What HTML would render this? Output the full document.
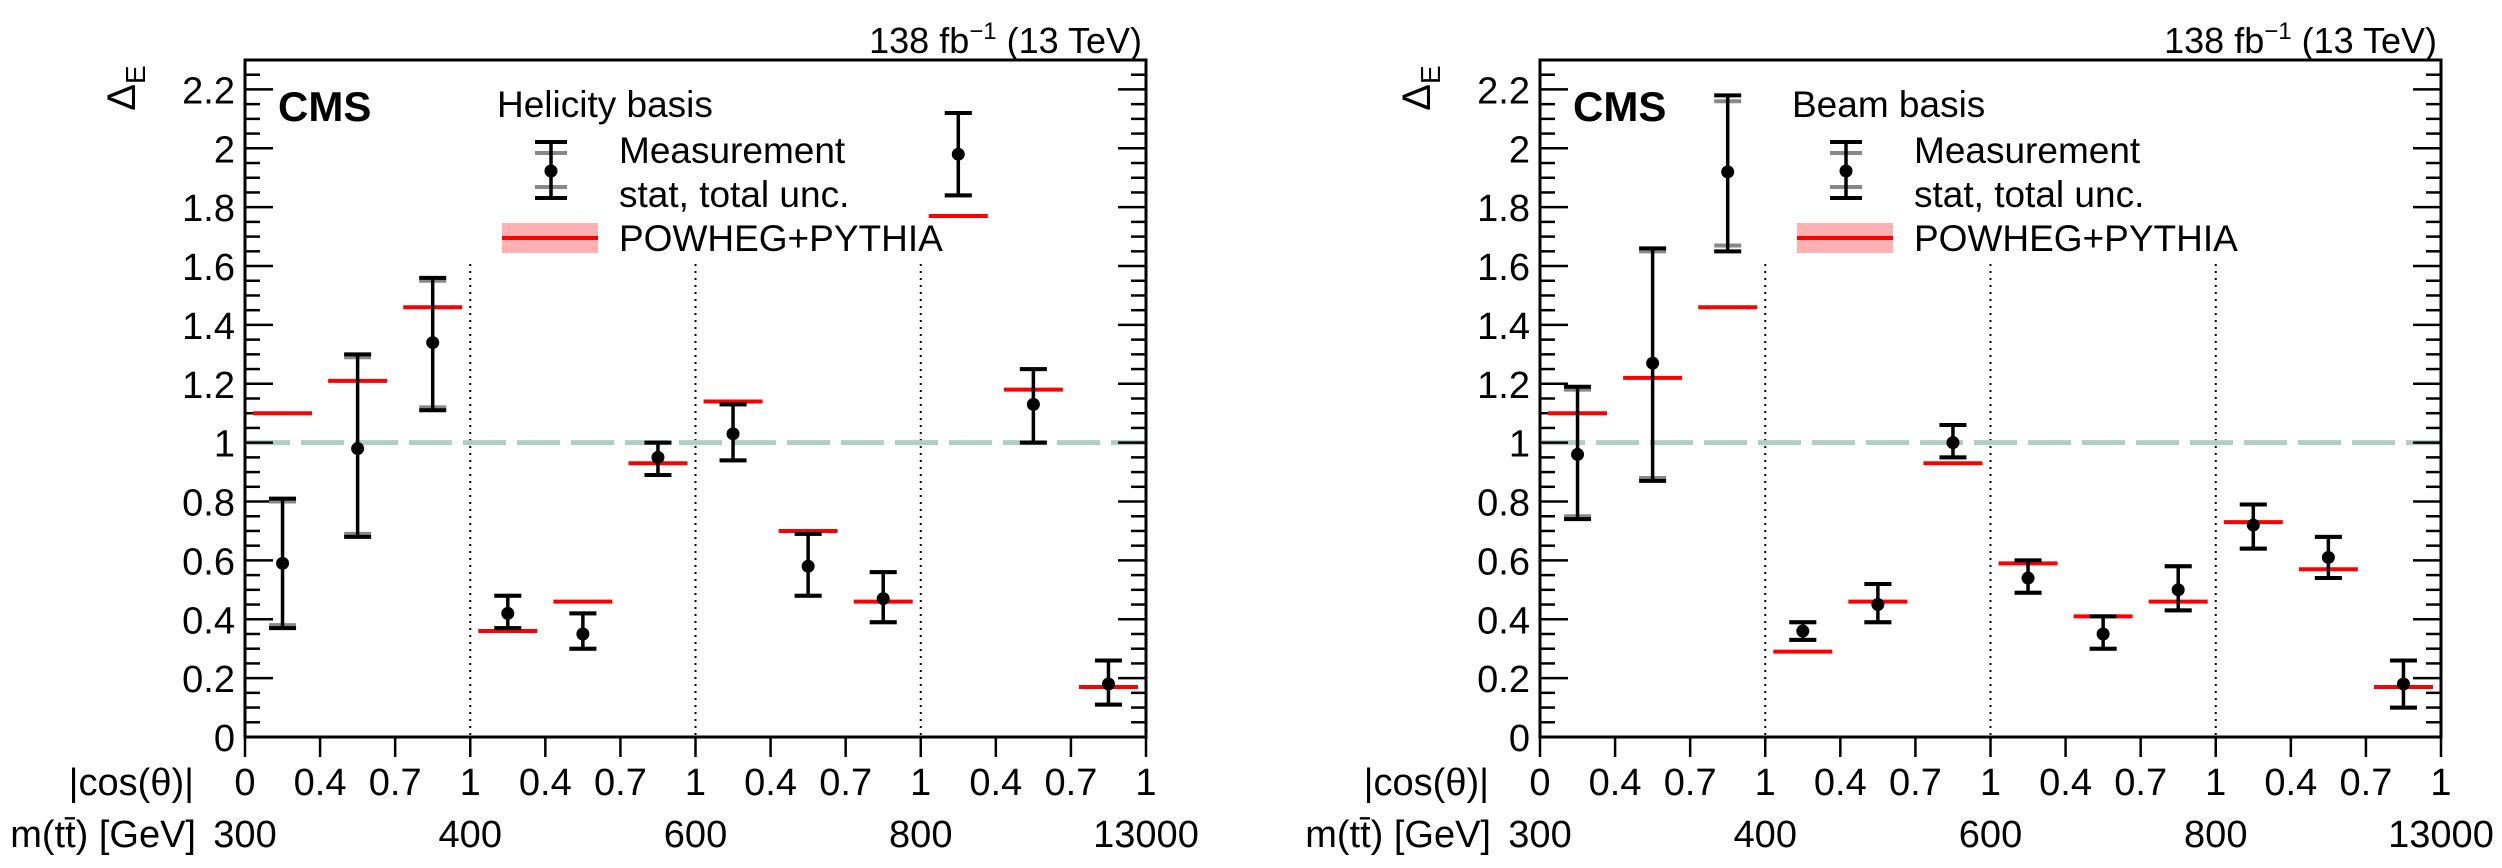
<!DOCTYPE html>
<html><head><meta charset="utf-8">
<style>
html,body{margin:0;padding:0;background:#fff;}
svg{display:block;font-family:"Liberation Sans",Arial,sans-serif;}
</style></head>
<body>
<svg id="chart" width="2502" height="868" viewBox="0 0 2502 868" xmlns="http://www.w3.org/2000/svg"></svg>
<script>
// Helicity basis (left panel)
const helVal  = [0.59,0.98,1.34, 0.42,0.35,0.95, 1.03,0.58,0.47, 1.98,1.13,0.18];
const helLo   = [0.37,0.68,1.11, 0.37,0.30,0.89, 0.94,0.48,0.39, 1.84,1.00,0.11];
const helHi   = [0.81,1.30,1.56, 0.48,0.42,1.00, 1.13,0.69,0.56, 2.12,1.25,0.26];
const helStatLo=[0.38,0.69,1.12, 0.37,0.30,0.89, 0.94,0.48,0.39, 1.84,1.00,0.11];
const helStatHi=[0.80,1.29,1.55, 0.48,0.42,1.00, 1.13,0.69,0.56, 2.12,1.25,0.26];
const helPred = [1.10,1.21,1.46, 0.36,0.46,0.93, 1.14,0.70,0.46, 1.77,1.18,0.17];
// Beam basis (right panel)
const beamVal  = [0.96,1.27,1.92, 0.36,0.45,1.00, 0.54,0.35,0.50, 0.72,0.61,0.18];
const beamLo   = [0.74,0.87,1.65, 0.33,0.39,0.95, 0.49,0.30,0.43, 0.64,0.54,0.10];
const beamHi   = [1.19,1.66,2.18, 0.39,0.52,1.06, 0.60,0.41,0.58, 0.79,0.68,0.26];
const beamStatLo=[0.75,0.88,1.67, 0.33,0.39,0.95, 0.49,0.30,0.43, 0.64,0.54,0.10];
const beamStatHi=[1.18,1.65,2.16, 0.39,0.52,1.06, 0.60,0.41,0.58, 0.79,0.68,0.26];
const beamPred = [1.10,1.22,1.46, 0.29,0.46,0.93, 0.59,0.41,0.46, 0.73,0.57,0.17];
const yTicks = [0,0.2,0.4,0.6,0.8,1,1.2,1.4,1.6,1.8,2,2.2];
const yTickLabels = ["0","0.2","0.4","0.6","0.8","1","1.2","1.4","1.6","1.8","2","2.2"];
const cosLabels = ["0","0.4","0.7","1","0.4","0.7","1","0.4","0.7","1","0.4","0.7","1"];
const massLabels = ["300","400","600","800","13000"];

const NS="http://www.w3.org/2000/svg";
const svg=document.getElementById('chart');
function mk(tag,attrs,parent){const e=document.createElementNS(NS,tag);for(const k in attrs)e.setAttribute(k,attrs[k]);(parent||svg).appendChild(e);return e;}

function panel(off, basis, val, lo, hi, slo, shi, pred){
  const L=245+off, R=1146+off, T=60, B=737;
  const Y0=0, Y1=2.3, nb=12, bw=(R-L)/nb;
  const y=v=>B-(v-Y0)/(Y1-Y0)*(B-T);
  const x=i=>L+i*bw;
  const g=mk('g',{});
  
  
  // dotted separators
  [3,6,9].forEach(i=>{
    const l=mk('line',{x1:x(i),x2:x(i),y1:264,y2:B,stroke:'#000','stroke-width':2,'stroke-dasharray':'2,5'},g);
    
    
  });
  // dashed reference line at 1
  const ref=mk('line',{x1:L+2,x2:R,y1:y(1),y2:y(1),stroke:'#b0cfc4','stroke-width':5,'stroke-dasharray':'43,11'},g);
  
  
  // y ticks
  for(let k=0;k<=46;k++){
    const v=k*0.05; const yy=y(v); const major=(k%4===0);
    const len=major?28:15;
    mk('line',{x1:L,x2:L+len,y1:yy,y2:yy,stroke:'#000','stroke-width':2.5},g);
    mk('line',{x1:R,x2:R-len,y1:yy,y2:yy,stroke:'#000','stroke-width':2.5},g);
  }
  yTicks.forEach((v,i)=>{
    const t=mk('text',{x:L-10,y:y(v)+14,'text-anchor':'end','font-size':38},g);
    t.textContent=yTickLabels[i];
    
    
  });
  // x ticks
  for(let i=0;i<=nb;i++){
    mk('line',{x1:x(i),x2:x(i),y1:B,y2:B+20,stroke:'#000','stroke-width':2.5},g);
    const t=mk('text',{x:x(i),y:795,'text-anchor':'middle','font-size':38},g);
    t.textContent=cosLabels[i];
    
    
  }
  massLabels.forEach((m,i)=>{
    const t=mk('text',{x:x(i*3),y:847,'text-anchor':'middle','font-size':38},g);
    t.textContent=m;
    
    
  });
  // frame
  const fr=mk('rect',{x:L,y:T,width:R-L,height:B-T,fill:'none',stroke:'#000','stroke-width':3},g);
  
  
  // predictions
  pred.forEach((p,i)=>{
    const cx=x(i+0.5);
    const l=mk('line',{x1:cx-29.5,x2:cx+29.5,y1:y(p),y2:y(p),stroke:'#ff0000','stroke-width':4},g);
    
    
  });
  // measurements
  val.forEach((v,i)=>{
    const cx=x(i+0.5);
    const eg=mk('g',{},g);
    
    
    mk('line',{x1:cx-13.5,x2:cx+13.5,y1:y(slo[i]),y2:y(slo[i]),stroke:'#888','stroke-width':4},eg);
    mk('line',{x1:cx-13.5,x2:cx+13.5,y1:y(shi[i]),y2:y(shi[i]),stroke:'#888','stroke-width':4},eg);
    mk('line',{x1:cx,x2:cx,y1:y(lo[i]),y2:y(hi[i]),stroke:'#000','stroke-width':3.5},eg);
    mk('line',{x1:cx-13.5,x2:cx+13.5,y1:y(lo[i]),y2:y(lo[i]),stroke:'#000','stroke-width':4},eg);
    mk('line',{x1:cx-13.5,x2:cx+13.5,y1:y(hi[i]),y2:y(hi[i]),stroke:'#000','stroke-width':4},eg);
    mk('circle',{cx:cx,cy:y(v),r:6.5,fill:'#000'},eg);
  });
  // texts
  const lum=mk('text',{x:R-4,y:53,'text-anchor':'end','font-size':36},g);
  lum.innerHTML='138 fb<tspan dy="-14" font-size="24">−1</tspan><tspan dy="14"> (13 TeV)</tspan>';
  
  
  const cms=mk('text',{x:278+off,y:121,'font-size':42,'font-weight':'bold'},g);
  cms.textContent='CMS';
  
  
  const yt=mk('text',{transform:`translate(${135+off},88) rotate(-90)`,'font-size':40,'text-anchor':'middle'},g);
  yt.innerHTML='Δ<tspan dy="10" font-size="28">E</tspan>';
  
  
  const c1=mk('text',{x:194+off,y:795,'text-anchor':'end','font-size':38},g);
  c1.textContent='|cos(θ)|';
  
  
  const c2=mk('text',{x:196+off,y:847,'text-anchor':'end','font-size':38},g);
  c2.textContent='m(tt̄) [GeV]';
  
  
  // legend
  const lg=mk('g',{},g);
  
  
  const lt=mk('text',{x:497+off,y:117,'font-size':37},lg);
  lt.textContent=basis==='helicity'?'Helicity basis':'Beam basis';
  const mx=551+off;
  mk('line',{x1:mx-16,x2:mx+16,y1:153,y2:153,stroke:'#888','stroke-width':4},lg);
  mk('line',{x1:mx-16,x2:mx+16,y1:187,y2:187,stroke:'#888','stroke-width':4},lg);
  mk('line',{x1:mx,x2:mx,y1:142,y2:198,stroke:'#000','stroke-width':3.5},lg);
  mk('line',{x1:mx-16,x2:mx+16,y1:142,y2:142,stroke:'#000','stroke-width':4},lg);
  mk('line',{x1:mx-16,x2:mx+16,y1:198,y2:198,stroke:'#000','stroke-width':4},lg);
  mk('circle',{cx:mx,cy:171,r:6.5,fill:'#000'},lg);
  const m1=mk('text',{x:619+off,y:163,'font-size':37},lg); m1.textContent='Measurement';
  const m2=mk('text',{x:619+off,y:207,'font-size':37},lg); m2.textContent='stat, total unc.';
  mk('rect',{x:502+off,y:223,width:96,height:30,fill:'#ffb0b0'},lg);
  mk('line',{x1:502+off,x2:598+off,y1:238,y2:238,stroke:'#ff0000','stroke-width':4},lg);
  const m3=mk('text',{x:619+off,y:251,'font-size':37},lg); m3.textContent='POWHEG+PYTHIA';
}
panel(0,'helicity',helVal,helLo,helHi,helStatLo,helStatHi,helPred);
panel(1295,'beam',beamVal,beamLo,beamHi,beamStatLo,beamStatHi,beamPred);
</script>
</body></html>
